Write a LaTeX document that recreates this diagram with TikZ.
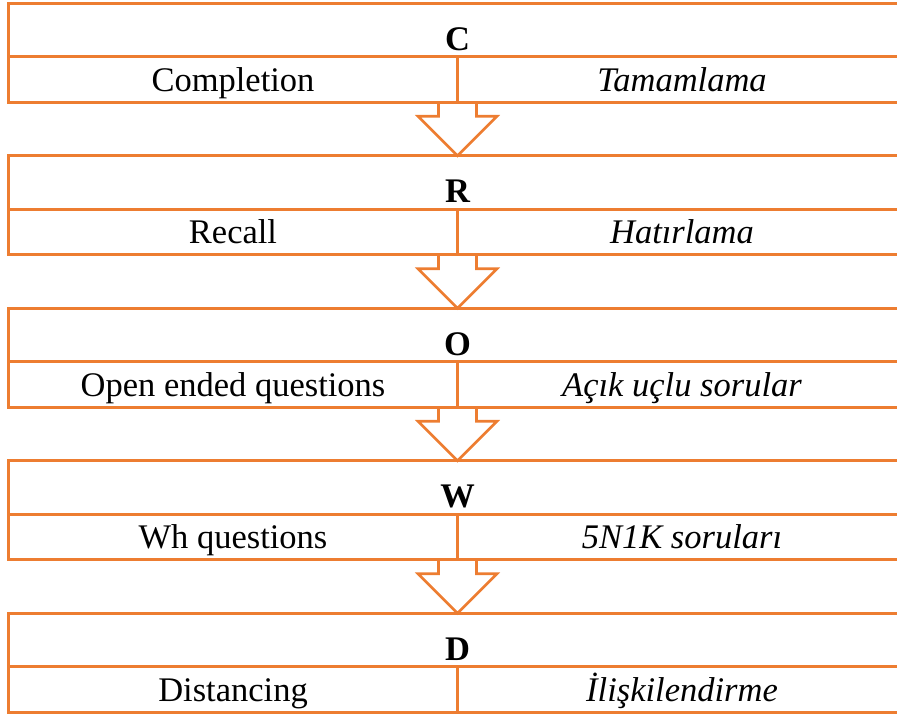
\documentclass[tikz,border=0pt]{standalone}
\usepackage{fontspec}
\setmainfont{Liberation Serif}
\usepackage{xcolor}
\usepackage{tikz}
\usetikzlibrary{positioning, calc}
\definecolor{crowd}{RGB}{237,125,49}

% down arrow between two blocks
\newcommand{\flowarrow}[2]{%
  \draw[flow] ($(#1)+(-19,0)$) |- ($(#2)+(-39.5,39.5)$) -- (#2)
    -- ($(#2)+(39.5,39.5)$) -| ($(#1)+(19,0)$);
}

\begin{document}
\begin{tikzpicture}[
    x=1pt, y=1pt,
    font=\fontsize{34.5}{40}\selectfont,
    toprow/.style={rectangle, draw=crowd, line width=2.6pt, outer sep=0pt, inner sep=0pt,
      minimum width=898pt, minimum height=53.5pt, text height=44pt, text depth=4pt, font=\fontsize{34.5}{40}\selectfont\bfseries},
    cell/.style={rectangle, draw=crowd, line width=2.6pt, outer sep=0pt, inner sep=0pt,
      minimum width=449pt, minimum height=45.5pt, text height=32.5pt, text depth=9pt},
    tr/.style={cell, font=\fontsize{34.5}{40}\selectfont\itshape},
    flow/.style={draw=crowd, line width=2.6pt, line join=miter}
]
\useasboundingbox (0,0) rectangle (897,-716);

% C
\node[toprow] (cT) at (457.5,-30) {C};
\node[cell, below right=0pt and 0pt of cT.south west] (cL) {Completion};
\node[tr, below left=0pt and 0pt of cT.south east] (cR) {Tamamlama};

% R
\node[toprow, below=53.5pt of cL.south east] (rT) {R};
\node[cell, below right=0pt and 0pt of rT.south west] (rL) {Recall};
\node[tr, below left=0pt and 0pt of rT.south east] (rR) {Hatırlama};

% O
\node[toprow, below=53.5pt of rL.south east] (oT) {O};
\node[cell, below right=0pt and 0pt of oT.south west] (oL) {Open ended questions};
\node[tr, below left=0pt and 0pt of oT.south east] (oR) {Açık uçlu sorular};

% W
\node[toprow, below=53.5pt of oL.south east] (wT) {W};
\node[cell, below right=0pt and 0pt of wT.south west] (wL) {Wh questions};
\node[tr, below left=0pt and 0pt of wT.south east] (wR) {5N1K soruları};

% D
\node[toprow, below=53.5pt of wL.south east] (dT) {D};
\node[cell, below right=0pt and 0pt of dT.south west] (dL) {Distancing};
\node[tr, below left=0pt and 0pt of dT.south east] (dR) {İlişkilendirme};

% Arrows
\flowarrow{cL.south east}{rT.north}
\flowarrow{rL.south east}{oT.north}
\flowarrow{oL.south east}{wT.north}
\flowarrow{wL.south east}{dT.north}

\end{tikzpicture}
\end{document}
